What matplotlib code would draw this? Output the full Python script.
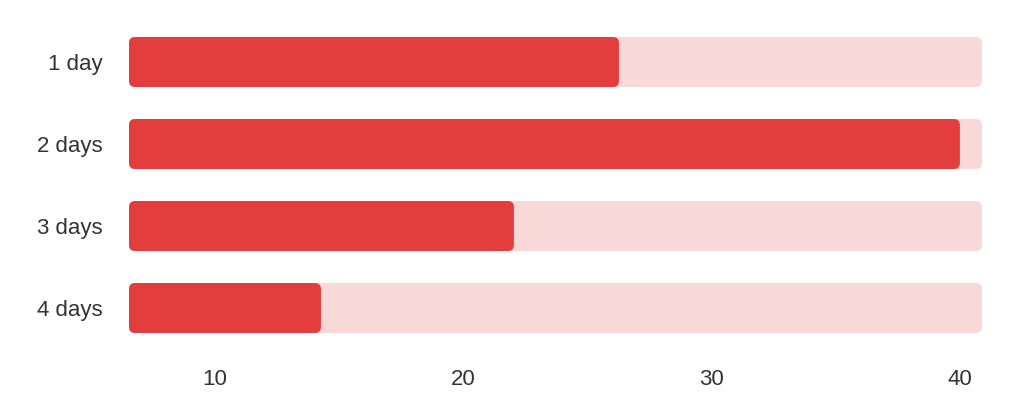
import matplotlib
matplotlib.use("Agg")
import matplotlib.pyplot as plt
from matplotlib.patches import FancyBboxPatch

categories = ["1 day", "2 days", "3 days", "4 days"]
values = [26.27, 40.0, 22.04, 14.27]
x_ticks = [10, 20, 30, 40]
x_min, x_max = 6.54, 40.89

RED = "#E33D3E"
LIGHT = "#F9D8D8"
TEXT = "#333333"

plt.rcParams['font.family'] = ['Liberation Sans', 'DejaVu Sans']

W, H = 1024, 416
fig = plt.figure(figsize=(W / 100, H / 100), dpi=100)
ax_l, ax_r, ax_t, ax_b = 129, 982, 37, 333
ax = fig.add_axes([ax_l / W, 1 - ax_b / H, (ax_r - ax_l) / W, (ax_b - ax_t) / H])

bh = 50 / 82
ypos = list(range(len(categories)))
ax.set_xlim(x_min, x_max)
ax.set_ylim(len(categories) - 1 + bh / 2, -bh / 2)

px_x = (x_max - x_min) / (ax_r - ax_l)
px_y = (len(categories) - 1 + bh) / (ax_b - ax_t)
radius_px = 6

def rounded(bars, color, z):
    for r in bars:
        x, y = r.get_x(), r.get_y()
        w, h = r.get_width(), r.get_height()
        r.set_visible(False)
        p = FancyBboxPatch((x, y), w, h,
                           boxstyle=f"round,pad=0,rounding_size={radius_px * px_x}",
                           mutation_aspect=px_y / px_x,
                           facecolor=color, edgecolor="none", zorder=z)
        ax.add_patch(p)

track = ax.barh(ypos, [x_max - x_min] * len(categories), left=x_min, height=bh)
rounded(track, LIGHT, 1)
bars = ax.barh(ypos, [v - x_min for v in values], left=x_min, height=bh)
rounded(bars, RED, 2)

ax.set_yticks(ypos)
ax.set_yticklabels(categories, fontsize=16, color=TEXT)
ax.set_xticks(x_ticks)
ax.set_xticklabels([str(t) for t in x_ticks], fontsize=16, color=TEXT)
ax.tick_params(axis='both', length=0)
ax.tick_params(axis='y', pad=19)
ax.tick_params(axis='x', pad=26)
for s in ax.spines.values():
    s.set_visible(False)

fig.savefig("out.png", dpi=100, facecolor="white")
